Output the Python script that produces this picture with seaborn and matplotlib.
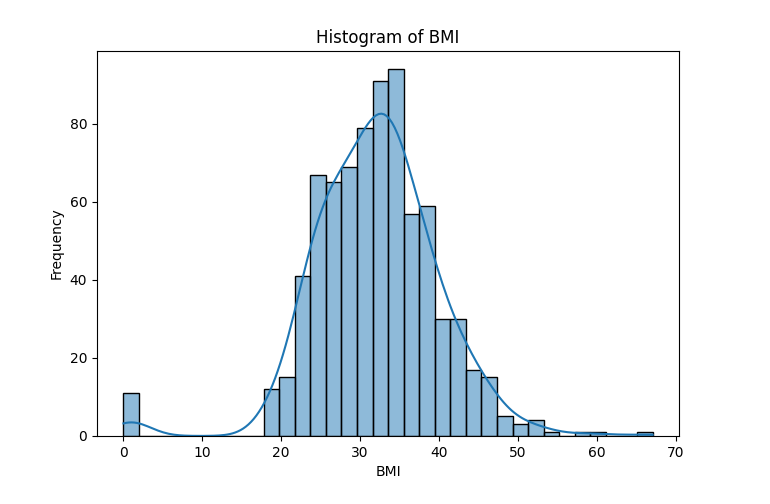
import numpy as np
import pandas as pd
import matplotlib
matplotlib.use('Agg')
import matplotlib.pyplot as plt
import seaborn as sns

# ── BMI histogram (34 equal bins from 0 to 67.1) ───────────────────────────
bmi_min = 0.0
bmi_max = 67.1
bin_counts = [11, 0, 0, 0, 0, 0, 0, 0, 0, 12, 15, 41, 67, 65, 69, 79, 91,
              94, 57, 59, 30, 30, 17, 15, 5, 3, 4, 1, 0, 1, 1, 0, 0, 1]

edges = np.linspace(bmi_min, bmi_max, len(bin_counts) + 1)
centers = (edges[:-1] + edges[1:]) / 2

# one row per observation, placed at its bin centre
df = pd.DataFrame({'BMI': np.repeat(centers, bin_counts)})

fig = plt.figure(figsize=(7.7, 5.04), dpi=100)
ax = fig.add_axes([0.126, 0.135, 0.756, 0.764])
# slightly wider bandwidth to make up for the binned (centre) positions
sns.histplot(df['BMI'], bins=edges, kde=True, ax=ax,
             kde_kws=dict(bw_adjust=1.2, cut=1, clip=(bmi_min, bmi_max)))
ax.set_title('Histogram of BMI', fontsize=12)
ax.set_xlabel('BMI')
ax.set_ylabel('Frequency')

plt.savefig('out.png', dpi=100)
plt.close()
